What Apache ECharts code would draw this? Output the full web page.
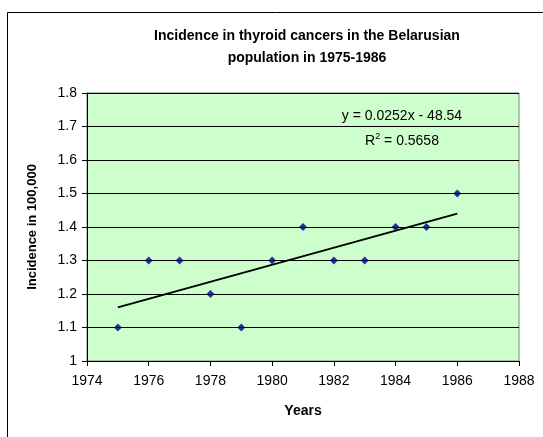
<!DOCTYPE html>
<html>
<head>
<meta charset="utf-8">
<script src="https://cdn.jsdelivr.net/npm/echarts@6/dist/echarts.min.js"></script>
<style>
  html, body { margin: 0; padding: 0; background: #fff; }
  #chart { width: 543px; height: 437px; }
</style>
</head>
<body>
<div id="chart"></div>
<script>
// data
var years = [1975, 1976, 1977, 1978, 1979, 1980, 1981, 1982, 1983, 1984, 1985, 1986];
var incidence = [1.1, 1.3, 1.3, 1.2, 1.1, 1.3, 1.4, 1.3, 1.3, 1.4, 1.4, 1.5];
var trendYears = [1975, 1986];
var trendValues = [1.16, 1.44];
var equationText = ["y = 0.0252x - 48.54", "R{sup|2} = 0.5658"];

var myChart = echarts.init(document.getElementById("chart"));
var font = "Arial, 'Liberation Sans', sans-serif";

myChart.setOption({
  animation: false,
  textStyle: { fontFamily: font },
  title: {
    text: "Incidence in thyroid cancers in the Belarusian\npopulation in 1975-1986",
    left: 302,
    top: 20,
    textAlign: "center",
    textStyle: { fontSize: 14, fontWeight: "bold", color: "#000", lineHeight: 22, fontFamily: font }
  },
  graphic: [
    {
      type: "rect",
      shape: { x: 7.5, y: 12.5, width: 560, height: 460 },
      style: { fill: "none", stroke: "#000", lineWidth: 1 },
      silent: true
    },
    {
      type: "text",
      x: 402,
      y: 116,
      style: {
        text: equationText[0],
        font: "14px " + font,
        fill: "#000",
        align: "center",
        verticalAlign: "middle"
      }
    },
    {
      type: "text",
      x: 402,
      y: 141,
      style: {
        text: equationText[1],
        font: "14px " + font,
        fill: "#000",
        align: "center",
        verticalAlign: "middle",
        rich: { sup: { fontSize: 9, verticalAlign: "top", padding: [0, 0, 8, 0] } }
      }
    }
  ],
  grid: {
    left: 87,
    right: 24,
    top: 93,
    bottom: 76,
    show: true,
    backgroundColor: "#CCFFCC",
    borderColor: "#808080",
    borderWidth: 1
  },
  xAxis: {
    type: "value",
    min: 1974,
    max: 1988,
    interval: 2,
    name: "Years",
    nameLocation: "middle",
    nameGap: 43,
    nameTextStyle: { fontSize: 14, fontWeight: "bold", color: "#000", fontFamily: font },
    axisLine: { show: true, onZero: false, lineStyle: { color: "#000", width: 1 } },
    axisTick: { show: true, inside: false, length: 5, lineStyle: { color: "#000" } },
    axisLabel: {
      fontSize: 14,
      color: "#000",
      margin: 13,
      fontFamily: font,
      formatter: function (v) { return String(v); }
    },
    splitLine: { show: false }
  },
  yAxis: {
    type: "value",
    min: 1,
    max: 1.8,
    interval: 0.1,
    name: "Incidence in 100,000",
    nameLocation: "middle",
    nameGap: 48,
    nameTextStyle: { fontSize: 13, fontWeight: "bold", color: "#000", fontFamily: font },
    axisLine: { show: true, onZero: false, lineStyle: { color: "#000", width: 1 } },
    axisTick: { show: true, length: 5, lineStyle: { color: "#000" } },
    axisLabel: {
      fontSize: 14,
      color: "#000",
      margin: 10,
      fontFamily: font,
      formatter: function (v) { return String(Math.round(v * 10) / 10); }
    },
    splitLine: { show: true, lineStyle: { color: "#000", width: 1 } }
  },
  series: [
    {
      name: "Incidence",
      type: "scatter",
      symbol: "diamond",
      symbolSize: 8,
      itemStyle: { color: "#000080" },
      data: years.map(function (y, i) { return [y, incidence[i]]; }),
      z: 3
    },
    {
      name: "Trend",
      type: "line",
      symbol: "none",
      lineStyle: { color: "#000", width: 2 },
      data: trendYears.map(function (y, i) { return [y, trendValues[i]]; }),
      z: 2
    }
  ]
});
</script>
</body>
</html>
